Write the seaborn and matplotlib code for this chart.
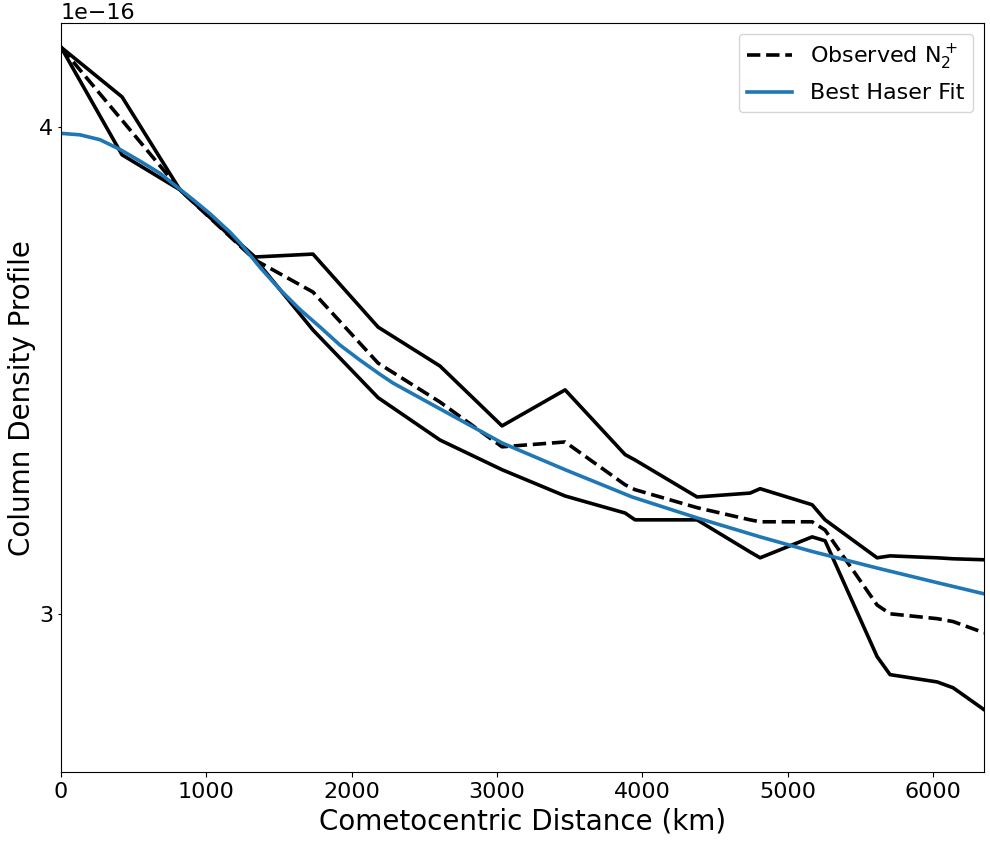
import numpy as np
import pandas as pd
import seaborn as sns
import matplotlib
matplotlib.use('Agg')
import matplotlib.pyplot as plt

# cometocentric distance (km) of the observed profile samples
distance = [0, 420, 819, 1335, 1734, 2182, 2608, 3035, 3469, 3882, 3950,
            4377, 4742, 4811, 5169, 5258, 5616, 5705, 6029, 6139, 6352]

# column density profile, units of 1e-16
observed = [4.164, 4.014, 3.871, 3.727, 3.661, 3.515, 3.435, 3.343, 3.353, 3.265, 3.255,
            3.218, 3.193, 3.189, 3.189, 3.172, 3.018, 3.000, 2.990, 2.984, 2.961]
upper = [4.164, 4.062, 3.871, 3.733, 3.739, 3.589, 3.509, 3.386, 3.460, 3.327, 3.316,
         3.240, 3.248, 3.257, 3.224, 3.193, 3.115, 3.119, 3.115, 3.113, 3.111]
lower = [4.164, 3.943, 3.871, 3.729, 3.583, 3.444, 3.357, 3.296, 3.242, 3.207, 3.193,
         3.193, 3.127, 3.115, 3.158, 3.150, 2.912, 2.875, 2.860, 2.848, 2.803]

# Haser fit
fit_distance = [0, 131, 268, 406, 544, 681, 798, 908, 1025, 1163, 1232, 1369, 1507,
                1645, 1783, 1920, 2058, 2195, 2285, 2608, 3035, 3469, 3930, 4377,
                4811, 5169, 5616, 6029, 6352]
fit_density = [3.987, 3.984, 3.974, 3.954, 3.930, 3.905, 3.877, 3.851, 3.822, 3.784,
               3.762, 3.712, 3.666, 3.625, 3.589, 3.552, 3.521, 3.492, 3.474, 3.421,
               3.351, 3.296, 3.240, 3.197, 3.158, 3.128, 3.094, 3.064, 3.041]

obs = pd.DataFrame({'distance': distance,
                    'observed': np.array(observed) * 1e-16,
                    'upper': np.array(upper) * 1e-16,
                    'lower': np.array(lower) * 1e-16})
fit = pd.DataFrame({'distance': fit_distance,
                    'density': np.array(fit_density) * 1e-16})

fig, ax = plt.subplots(figsize=(9.9, 8.47), dpi=100)
fig.subplots_adjust(left=0.0616, right=0.994, top=0.973, bottom=0.088)

sns.lineplot(data=obs, x='distance', y='upper', color='black', lw=2.6, ax=ax)
sns.lineplot(data=obs, x='distance', y='lower', color='black', lw=2.6, ax=ax)
sns.lineplot(data=obs, x='distance', y='observed', color='black', lw=2.6,
             linestyle='--', label=r'Observed N$_2^+$', ax=ax)
sns.lineplot(data=fit, x='distance', y='density', color='#1f77b4', lw=2.6,
             label='Best Haser Fit', ax=ax)

ax.set_xlim(0, 6352)
ax.set_ylim(2.674e-16, 4.214e-16)
ax.set_yticks([3e-16, 4e-16])
ax.tick_params(axis='y', length=2)
ax.tick_params(labelsize=16)
ax.yaxis.get_offset_text().set_fontsize(16)

ax.set_xlabel('Cometocentric Distance (km)', fontsize=20)
ax.set_ylabel('Column Density Profile', fontsize=20, labelpad=2)
ax.legend(loc='upper right', fontsize=16)

plt.savefig('out.png')
plt.close()
